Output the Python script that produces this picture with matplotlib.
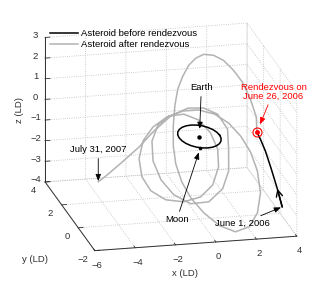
import matplotlib
matplotlib.use("Agg")
import matplotlib.pyplot as plt
from mpl_toolkits.mplot3d import proj3d

plt.rcParams.update(
    {
        "font.family": ["Liberation Sans", "DejaVu Sans"],
        "font.size": 6.8,
        "grid.color": "#bdbdbd",
        "grid.linestyle": ":",
        "grid.linewidth": 0.6,
        "axes.unicode_minus": True,
    }
)

# asteroid track before rendezvous (LD)
before_x = [3.69, 3.49, 3.23, 2.98, 2.77, 2.64]
before_y = [-1.0, -0.9, -0.8, -0.7, -0.6, -0.5]
before_z = [-3.11, -2.28, -1.35, -0.52, 0.02, 0.31]

# asteroid track after rendezvous (LD)
after_x = [2.64, 2.82, 2.73, 2.54, 2.30, 2.01, 1.52, 1.03, 0.64, 0.21, -0.21, -0.58, -0.89, -1.13,
           -1.21, -1.21, -1.08, -0.80, -0.32, 0.35, 1.09, 1.78, 2.22, 2.45, 2.38, 2.12, 1.71, 1.20,
           0.67, 0.05, -0.66, -1.45, -2.22, -2.79, -3.11, -3.09, -2.77, -2.11, -1.26, -0.43, 0.21,
           0.58, 0.66, 0.43,
           -0.03, -0.69, -1.43, -2.05, -2.43, -2.50, -2.23, -1.72, -0.96, -0.07, 0.70, 1.08, 1.20, 1.27,
           0.90, 0.29, -0.45, -1.25, -2.05, -2.74, -3.59, -4.24, -4.68]
after_y = [-0.5, 0.0, 0.5, 1.0, 1.5, 2.0, 2.0, 2.0, 2.0, 1.8, 1.5, 1.2, 0.8, 0.4,
           0.2, -0.1, -0.5, -0.9, -1.3, -1.6, -1.7, -1.7, -1.6, -1.4, -1.2, -1.0, -0.8, -0.6,
           -0.2, 0.2, 0.4, 0.4, 0.2, 0.0, -0.3, -0.6, -0.9, -1.1, -1.2, -1.2, -1.1,
           -0.9, -0.6, -0.3,
           0.0, 0.2, 0.2, 0.0, -0.2, -0.5, -0.8, -1.1, -1.3, -1.3, -1.1, -0.9, -0.6, -0.3,
           0.0, 0.2, 0.3, 0.4, 0.5, 0.6, 0.7, 0.8, 0.8]
after_z = [0.31, 0.74, 1.34, 1.90, 2.22, 2.44, 2.72, 2.80, 2.64, 2.44, 2.10, 1.67, 1.09, 0.36,
           -0.49, -1.19, -1.84, -2.41, -2.95, -3.46, -3.75, -3.55, -2.96, -2.12, -1.17, -0.34, 0.35, 0.90,
           1.15, 1.17, 1.06, 0.82, 0.50, -0.02, -0.70, -1.41, -1.94, -2.31, -2.41, -2.23, -1.75,
           -1.01, -0.32, 0.31,
           0.80, 1.02, 0.98, 0.70, 0.06, -0.73, -1.50, -2.09, -2.47, -2.44, -1.97, -1.24, -0.35, 0.44,
           1.02, 1.25, 1.24, 0.86, 0.13, -0.65, -1.42, -2.01, -2.31]

# lunar orbit (LD)
moon_orbit_x = [1, .966, .866, .707, .5, .259, 0, -.259, -.5, -.707, -.866, -.966, -1,
                -.966, -.866, -.707, -.5, -.259, 0, .259, .5, .707, .866, .966, 1]
moon_orbit_y = [0, .259, .5, .707, .866, .966, 1, .966, .866, .707, .5, .259, 0,
                -.259, -.5, -.707, -.866, -.966, -1, -.966, -.866, -.707, -.5, -.259, 0]
moon_orbit_z = [0] * 25

earth = (0.0, 0.0, 0.0)
moon = (-0.34, -0.94, 0.0)

x_ticks = [-6, -4, -2, 0, 2, 4]
y_ticks = [-2, 0, 2, 4]
z_ticks = [-4, -3, -2, -1, 0, 1, 2, 3]

fig = plt.figure(figsize=(3.27, 2.83), dpi=100)
ax = fig.add_axes([0.011, 0.003, 1.0, 1.0], projection="3d", proj_type="ortho")
ax.view_init(elev=18.3, azim=-102.8)
ax.set_box_aspect((4, 4.33, 2.94), zoom=1.17)

ax.plot(before_x, before_y, before_z, color="black", lw=1.1, label="Asteroid before rendezvous")
ax.plot(after_x, after_y, after_z, color="#b3b3b3", lw=1.1, label="Asteroid after rendezvous")
ax.plot(moon_orbit_x, moon_orbit_y, moon_orbit_z, color="black", lw=1.1)
ax.plot(*[[v] for v in earth], "o", color="black", ms=2.2)
ax.plot(*[[v] for v in moon], "o", color="black", ms=1.6)
ax.plot([before_x[-1]], [before_y[-1]], [before_z[-1]], "o", mfc="none", mec="red", ms=6.5, mew=0.8)
ax.plot([before_x[-1]], [before_y[-1]], [before_z[-1]], "o", color="red", ms=2.5)

ax.set_xlim(-6, 4)
ax.set_ylim(-2, 4)
ax.set_zlim(-4, 3)
ax.set_xticks(x_ticks)
ax.set_yticks(y_ticks)
ax.set_zticks(z_ticks)

for axis in (ax.xaxis, ax.yaxis, ax.zaxis):
    axis.set_pane_color((1, 1, 1, 0))
    axis.pane.set_edgecolor((1, 1, 1, 0))
    axis.line.set_color("#303030")
    axis.line.set_linewidth(0.7)
    axis._axinfo["tick"]["inward_factor"] = 0.0
    axis._axinfo["tick"]["outward_factor"] = 0.3
    axis._axinfo["tick"]["linewidth"] = {True: 0.6, False: 0.4}
    axis._axinfo["tick"]["color"] = "#303030"
ax.tick_params(axis="both", pad=-3, colors="#303030", labelsize=6.8)
ax.yaxis.set_tick_params(pad=-2)
ax.zaxis.set_tick_params(pad=-4)
for lab in ax.get_zticklabels() + ax.get_yticklabels():
    lab.set_va("center")

fig.text(185 / 327, 1 - 273 / 283, "x (LD)", ha="center", va="center", color="#303030")
fig.text(35 / 327, 1 - 259 / 283, "y (LD)", ha="center", va="center", color="#303030")
fig.text(19 / 327, 1 - 110 / 283, "z (LD)", ha="center", va="center", rotation=90, color="#303030")


def proj(p):
    x2, y2, _ = proj3d.proj_transform(p[0], p[1], p[2], ax.get_proj())
    return x2, y2


arrow = dict(arrowstyle="-|>,head_length=0.45,head_width=0.18", color="black", lw=0.6,
             mutation_scale=9, shrinkA=1)

ax.annotate("Earth", xy=proj(earth), xytext=(1.4, 35), textcoords="offset points",
            ha="center", va="center", arrowprops=dict(arrow, shrinkB=5.5))
ax.annotate("Moon", xy=proj(moon), xytext=(-17, -52), textcoords="offset points",
            ha="center", va="center", arrowprops=dict(arrow, shrinkB=3.5))
ax.annotate("July 31, 2007", xy=proj((after_x[-1], after_y[-1], after_z[-1])), xytext=(0, 23),
            textcoords="offset points", ha="center", va="center", arrowprops=dict(arrow, shrinkB=0.5))
ax.annotate("June 1, 2006", xy=proj((before_x[0], before_y[0], before_z[0])), xytext=(-29, -12),
            textcoords="offset points", ha="center", va="center", arrowprops=dict(arrow, shrinkB=1))
ax.annotate("Rendezvous on\nJune 26, 2006", xy=proj((before_x[-1], before_y[-1], before_z[-1])),
            xytext=(12, 29), textcoords="offset points", ha="center", va="center", color="red",
            linespacing=1.0, arrowprops=dict(arrow, color="red", shrinkB=6))
# direction of travel on the approach leg
ax.annotate("", xy=proj((before_x[1], before_y[1], before_z[1])),
            xytext=proj((before_x[0], before_y[0], before_z[0])),
            arrowprops=dict(arrowstyle="->,head_length=0.5,head_width=0.25", color="black",
                            lw=1.0, mutation_scale=9, shrinkA=0, shrinkB=0))

fig.legend(loc="upper left", bbox_to_anchor=(50 / 327, 1 - 29 / 283), frameon=False, borderpad=0,
           borderaxespad=0, handlelength=3.0, handletextpad=0.3, labelspacing=0.25, fontsize=6.8)

fig.savefig("out.png", dpi=100)
